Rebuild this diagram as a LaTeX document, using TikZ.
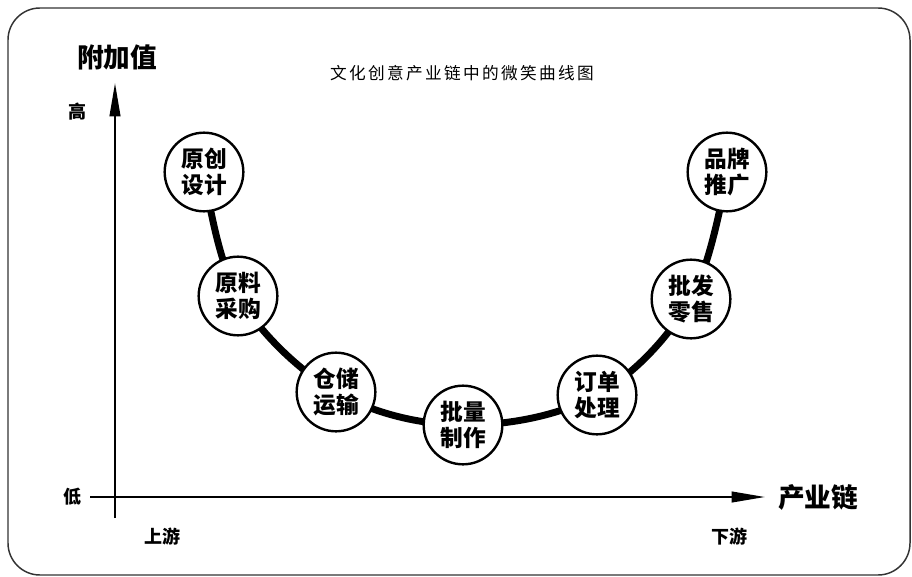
\documentclass[tikz,border=0pt]{standalone}
\usepackage{fontspec}
\setmainfont{Noto Sans CJK SC}
\newfontfamily\cjk{Noto Sans CJK SC}
\usetikzlibrary{arrows.meta,backgrounds}
\begin{document}
\begin{tikzpicture}[x=0.75pt,y=-0.75pt,
  stage/.style={circle,draw,line width=1.8pt,fill=white,minimum size=59pt,inner sep=0pt,
    align=center,font=\cjk\bfseries\fontsize{17}{19}\selectfont},
  axis/.style={line width=1.5pt,-{Triangle[length=25pt,width=8pt]}},
  curve/.style={line width=5.2pt},
  biglabel/.style={font=\cjk\bfseries\fontsize{20}{24}\selectfont},
  smalllabel/.style={font=\cjk\bfseries\fontsize{13.5}{16}\selectfont},
  frame/.style={draw=black!80,line width=1.1pt,rounded corners=24pt}]
\useasboundingbox (0,0) rectangle (912,577);
\draw[frame] (8,8) rectangle (910,575);
% title
\node[font=\cjk\fontsize{12.5}{15}\selectfont\addfontfeatures{LetterSpace=14}] (title) at (462,73) {文化创意产业链中的微笑曲线图};
% axes
\coordinate (yb) at (115,518);
\coordinate (yt) at (115,83);
\coordinate (xl) at (90,497);
\coordinate (xr) at (765,497);
\draw[axis] (yb) -- (yt);
\draw[axis] (xl) -- (xr);
\node[biglabel] (yl) at (117,57) {附加值};
\node[biglabel] (xlab) at (818,497) {产业链};
\node[smalllabel] (hi) at (77,112) {高};
\node[smalllabel] (lo) at (72,497) {低};
\node[smalllabel] (up) at (162,537) {上游};
\node[smalllabel] (down) at (729,537) {下游};
% stages
\node[stage] (s1) at (204,172) {原创\\设计};
\node[stage] (s2) at (238,296) {原料\\采购};
\node[stage] (s3) at (336,392) {仓储\\运输};
\node[stage] (s4) at (463,425) {批量\\制作};
\node[stage] (s5) at (597,395) {订单\\处理};
\node[stage] (s6) at (691,299) {批发\\零售};
\node[stage] (s7) at (727,172) {品牌\\推广};
\begin{pgfonlayer}{background}
\draw[curve] plot[smooth,tension=0.6] coordinates {(s1) (s2) (s3) (s4) (s5) (s6) (s7)};
\end{pgfonlayer}
\end{tikzpicture}
\end{document}
